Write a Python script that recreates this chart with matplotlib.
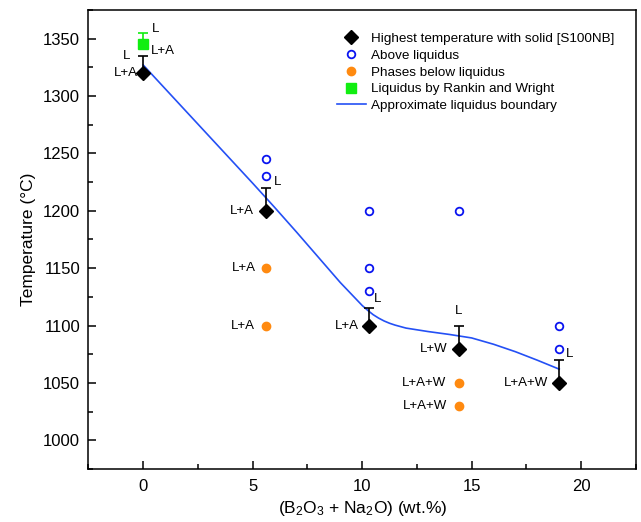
import numpy as np
import matplotlib
matplotlib.use("Agg")
import matplotlib.pyplot as plt
from matplotlib.ticker import MultipleLocator

plt.rcParams['font.family'] = ['Liberation Sans', 'DejaVu Sans']
plt.rcParams['mathtext.fontset'] = 'custom'
plt.rcParams['mathtext.rm'] = 'Liberation Sans'
plt.rcParams['mathtext.it'] = 'Liberation Sans:italic'

# highest temperature with solid [S100NB]
solid_x = [0, 5.6, 10.3, 14.4, 19]
solid_y = [1320, 1200, 1100, 1080, 1050]
solid_err = [15, 20, 15, 20, 20]

# above liquidus
above_x = [5.6, 5.6, 10.3, 10.3, 10.3, 14.4, 19, 19]
above_y = [1245, 1230, 1200, 1150, 1130, 1200, 1100, 1080]

# phases below liquidus
below_x = [5.6, 5.6, 14.4, 14.4]
below_y = [1150, 1100, 1050, 1030]

# Rankin and Wright liquidus
rw_x = [0]
rw_y = [1345]
rw_err = [10]

# approximate liquidus boundary
curve_x = [0, 1, 2, 3, 4, 5, 6, 7, 8, 9, 9.5, 10, 10.25, 10.5, 10.75,
           11, 11.25, 11.5, 12, 13, 14, 15, 16, 17, 18, 19]
curve_y = [1327, 1306.4, 1285.8, 1265.2, 1244.6, 1224, 1203, 1181.5,
           1159.5, 1137.5, 1127.5, 1117.5, 1113.3, 1109.5, 1106.5, 1104,
           1102, 1100.4, 1097.8, 1094.8, 1092.2, 1089.2, 1083.7, 1077.2,
           1069.8, 1062]

# phase labels: (x, y, text, ha)
labels = [
    (-0.6, 1335, 'L', 'right'),
    (-0.25, 1320, 'L+A', 'right'),
    (0.35, 1339, 'L+A', 'left'),
    (0.4, 1358, 'L', 'left'),
    (5.95, 1225, 'L', 'left'),
    (5.05, 1200, 'L+A', 'right'),
    (5.15, 1150, 'L+A', 'right'),
    (5.1, 1100, 'L+A', 'right'),
    (10.55, 1123, 'L', 'left'),
    (9.85, 1100, 'L+A', 'right'),
    (14.4, 1113, 'L', 'center'),
    (13.9, 1080, 'L+W', 'right'),
    (13.85, 1050, 'L+A+W', 'right'),
    (13.9, 1030, 'L+A+W', 'right'),
    (19.3, 1075, 'L', 'left'),
    (18.5, 1050, 'L+A+W', 'right'),
]

fig = plt.figure(figsize=(6.41, 5.22), dpi=100)
ax = fig.add_axes([0.138, 0.1015, 0.854, 0.8795])

line_c = '#2450F5'
ax.plot(curve_x, curve_y, color=line_c, lw=1.2, zorder=2,
        label='Approximate liquidus boundary')

ax.errorbar(solid_x, solid_y, yerr=[np.zeros(len(solid_err)), solid_err],
            fmt='none', ecolor='black', elinewidth=1.2, capsize=3.5,
            capthick=1.2, zorder=3)
ax.plot(solid_x, solid_y, 'D', color='black', ms=7, ls='none', zorder=4,
        label='Highest temperature with solid [S100NB]')

ax.plot(above_x, above_y, 'o', mfc='white', mec='#0A14F0', mew=1.3, ms=5.5,
        ls='none', zorder=4, label='Above liquidus')
ax.plot(below_x, below_y, 'o', color='#FF8A10', ms=6, ls='none', zorder=4,
        label='Phases below liquidus')

ax.errorbar(rw_x, rw_y, yerr=[np.zeros(len(rw_err)), rw_err], fmt='none',
            ecolor='#11EE11', elinewidth=1.2, capsize=3.5, capthick=1.2, zorder=3)
ax.plot(rw_x, rw_y, 's', color='#11EE11', ms=6.5, ls='none', zorder=4,
        label='Liquidus by Rankin and Wright')

for x, y, t, ha in labels:
    ax.text(x, y, t, ha=ha, va='center', fontsize=9.5)

ax.set_xlim(-2.5, 22.5)
ax.set_ylim(975, 1375)
ax.xaxis.set_major_locator(MultipleLocator(5))
ax.xaxis.set_minor_locator(MultipleLocator(2.5))
ax.yaxis.set_major_locator(MultipleLocator(50))
ax.yaxis.set_minor_locator(MultipleLocator(25))
ax.tick_params(which='both', direction='in', top=False, right=False,
               width=1.1, labelsize=12)
ax.tick_params(which='major', length=6)
ax.tick_params(which='minor', length=3.5)
ax.tick_params(axis='x', which='major', pad=7)
ax.tick_params(axis='y', which='major', pad=6)
for s in ax.spines.values():
    s.set_linewidth(1.1)

ax.set_xlabel('(B$_2$O$_3$ + Na$_2$O) (wt.%)', fontsize=12.5, labelpad=4)
ax.set_ylabel('Temperature (°C)', fontsize=12.5, labelpad=5)

h, l = ax.get_legend_handles_labels()
order = [1, 2, 3, 4, 0]
ax.legend([h[i] for i in order], [l[i] for i in order], loc='upper left',
          bbox_to_anchor=(0.444, 0.962), frameon=False, fontsize=9.7,
          handlelength=2.15, handletextpad=0.37, labelspacing=0.32,
          borderaxespad=0)

fig.savefig('out.png', dpi=100)
